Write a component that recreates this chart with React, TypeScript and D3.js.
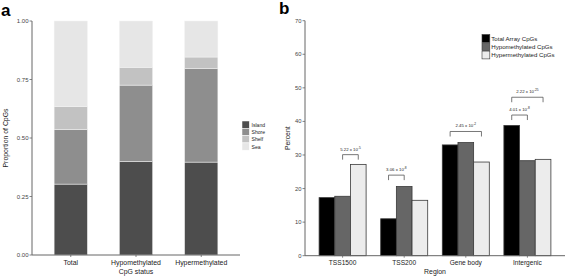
import React from "react";
import * as d3 from "d3";

const statusCats = ["Total", "Hypomethylated", "Hypermethylated"];
const featureKeys = ["Island", "Shore", "Shelf", "Sea"];
const islandVals = [0.303, 0.4, 0.397];
const shoreVals = [0.234, 0.326, 0.399];
const shelfVals = [0.097, 0.076, 0.05];
const seaVals = [0.366, 0.198, 0.154];
const featureColors = ["#4d4d4d", "#8e8e8e", "#c2c2c2", "#e6e6e6"];
const aTicks = [0, 0.25, 0.5, 0.75, 1.0];

const regions = ["TSS1500", "TSS200", "Gene body", "Intergenic"];
const seriesNames = ["Total Array CpGs", "Hypomethylated CpGs", "Hypermethylated CpGs"];
const totalArray = [17.3, 11.0, 33.0, 38.8];
const hypoVals = [17.7, 20.6, 33.7, 28.3];
const hyperVals = [27.2, 16.5, 27.9, 28.7];
const seriesColors = ["#000000", "#666666", "#ececec"];
const bTicks = [0, 10, 20, 30, 40, 50, 60, 70];

const bracketRegion = ["TSS1500", "TSS200", "Gene body", "Intergenic", "Intergenic"];
const bracketFrom = [1, 0, 0, 0, 0];
const bracketTo = [2, 1, 2, 1, 2];
const bracketY = [30.1, 24.0, 37.0, 41.9, 47.2];
const bracketMant = ["5.22", "3.06", "2.45", "4.01", "2.22"];
const bracketExp = ["-5", "-8", "-2", "-8", "-25"];

const FONT = "'Liberation Sans', Arial, sans-serif";

export default function App() {
  // Panel a
  const aX0 = 32, aX1 = 240, aYTop = 21, aYBot = 255;
  const ax = d3.scaleBand().domain(statusCats).range([aX0, aX1]).paddingInner(0.49).paddingOuter(0.339);
  const ay = d3.scaleLinear().domain([0, 1]).range([aYBot, aYTop]);
  const rows = statusCats.map((c, i) => ({
    cat: c,
    Island: islandVals[i],
    Shore: shoreVals[i],
    Shelf: shelfVals[i],
    Sea: seaVals[i],
  }));
  const stacked = d3.stack<any>().keys(featureKeys)(rows);

  // Panel b
  const bX0 = 305, bX1 = 565, bYTop = 20.7, bYBot = 255.7;
  const bx = d3.scaleBand().domain(regions).range([bX0, bX1]).paddingInner(0.237).paddingOuter(0.229);
  const bxi = d3.scaleBand().domain(["0", "1", "2"]).range([0, bx.bandwidth()]);
  const by = d3.scaleLinear().domain([0, 70]).range([bYBot, bYTop]);
  const seriesVals = [totalArray, hypoVals, hyperVals];

  const axisColor = "#666";
  const tickColor = "#444";

  return (
    <svg width={567} height={276} style={{ display: "block", position: "absolute", left: 0, top: 0 }} fontFamily={FONT}>
      <rect width={567} height={276} fill="#fff" />
      {/* Panel labels */}
      <text x={1} y={16} fontSize={17} fontWeight="bold" fill="#000">a</text>
      <text x={279} y={14} fontSize={17} fontWeight="bold" fill="#000">b</text>

      {/* Panel a bars */}
      {stacked.map((layer, li) => (
        <g key={layer.key}>
          {layer.map((d, i) => (
            <rect
              key={i}
              x={ax(statusCats[i])}
              width={ax.bandwidth()}
              y={ay(d[1])}
              height={ay(d[0]) - ay(d[1])}
              fill={featureColors[li]}
              stroke="#f4f4f4"
              strokeWidth={0.5}
            />
          ))}
        </g>
      ))}
      {/* Panel a axes */}
      <line x1={aX0} x2={aX0} y1={aYTop} y2={aYBot} stroke={axisColor} strokeWidth={1} />
      <line x1={aX0} x2={aX1} y1={aYBot} y2={aYBot} stroke={axisColor} strokeWidth={1} />
      {aTicks.map((t) => (
        <g key={t}>
          <line x1={aX0 - 2.5} x2={aX0} y1={ay(t)} y2={ay(t)} stroke={axisColor} strokeWidth={0.8} />
          <text x={aX0 - 3.5} y={ay(t) + 2} fontSize={6} textAnchor="end" fill={tickColor}>
            {t.toFixed(2)}
          </text>
        </g>
      ))}
      {statusCats.map((c) => (
        <g key={c}>
          <line x1={ax(c)! + ax.bandwidth() / 2} x2={ax(c)! + ax.bandwidth() / 2} y1={aYBot} y2={aYBot + 2} stroke={axisColor} strokeWidth={0.8} />
          <text x={ax(c)! + ax.bandwidth() / 2} y={264.5} fontSize={6.9} textAnchor="middle" fill="#222">
            {c}
          </text>
        </g>
      ))}
      <text x={(aX0 + aX1) / 2} y={273.5} fontSize={6.9} textAnchor="middle" fill="#222">CpG status</text>
      <text transform={`translate(8,${(aYTop + aYBot) / 2}) rotate(-90)`} fontSize={6.9} textAnchor="middle" fill="#222">
        Proportion of CpGs
      </text>
      {/* Panel a legend */}
      {featureKeys.map((k, i) => (
        <g key={k}>
          <rect x={242} y={121 + i * 7.3} width={7.3} height={7.3} fill={featureColors[i]} stroke="#fff" strokeWidth={0.5} />
          <text x={251.5} y={126.8 + i * 7.3} fontSize={5.1} fill="#222">{k}</text>
        </g>
      ))}

      {/* Panel b bars */}
      {regions.map((r, ri) => (
        <g key={r} transform={`translate(${bx(r)},0)`}>
          {seriesVals.map((vals, si) => (
            <rect
              key={si}
              x={bxi(String(si))}
              width={bxi.bandwidth()}
              y={by(vals[ri])}
              height={by(0) - by(vals[ri])}
              fill={seriesColors[si]}
              stroke="#3a3a3a"
              strokeWidth={0.8}
            />
          ))}
        </g>
      ))}
      {/* Brackets */}
      {bracketRegion.map((r, i) => {
        const xa = bx(r)! + bxi(String(bracketFrom[i]))! + bxi.bandwidth() / 2;
        const xb = bx(r)! + bxi(String(bracketTo[i]))! + bxi.bandwidth() / 2;
        const yTop = by(bracketY[i]);
        return (
          <g key={i}>
            <path d={`M${xa},${yTop + 5}V${yTop}H${xb}V${yTop + 5}`} fill="none" stroke="#555" strokeWidth={0.8} />
            <text x={(xa + xb) / 2} y={yTop - 4} fontSize={4.3} textAnchor="middle" fill="#222">
              {bracketMant[i]} x 10
              <tspan fontSize={3.2} dy={-2}>{bracketExp[i]}</tspan>
            </text>
          </g>
        );
      })}
      {/* Panel b axes */}
      <line x1={bX0} x2={bX0} y1={bYTop} y2={bYBot} stroke={axisColor} strokeWidth={1} />
      <line x1={bX0} x2={bX1} y1={bYBot} y2={bYBot} stroke={axisColor} strokeWidth={1} />
      {bTicks.map((t) => (
        <g key={t}>
          <line x1={bX0 - 2.5} x2={bX0} y1={by(t)} y2={by(t)} stroke={axisColor} strokeWidth={0.8} />
          <text x={bX0 - 3.5} y={by(t) + 2} fontSize={5.8} textAnchor="end" fill={tickColor}>
            {t}
          </text>
        </g>
      ))}
      {regions.map((r) => (
        <g key={r}>
          <line x1={bx(r)! + bx.bandwidth() / 2} x2={bx(r)! + bx.bandwidth() / 2} y1={bYBot} y2={bYBot + 2} stroke={axisColor} strokeWidth={0.8} />
          <text x={bx(r)! + bx.bandwidth() / 2} y={264.5} fontSize={6.6} textAnchor="middle" fill="#222">
            {r}
          </text>
        </g>
      ))}
      <text x={(bX0 + bX1) / 2} y={273.5} fontSize={6.9} textAnchor="middle" fill="#222">Region</text>
      <text transform={`translate(289.5,${(bYTop + bYBot) / 2}) rotate(-90)`} fontSize={6.9} textAnchor="middle" fill="#222">
        Percent
      </text>
      {/* Panel b legend */}
      {seriesNames.map((s, i) => (
        <g key={s}>
          <rect x={482} y={34.5 + i * 8.3} width={7.8} height={7.8} fill={seriesColors[i]} stroke="#3a3a3a" strokeWidth={0.6} />
          <text x={491.3} y={40.6 + i * 8.3} fontSize={6.1} fill="#222">{s}</text>
        </g>
      ))}
    </svg>
  );
}
